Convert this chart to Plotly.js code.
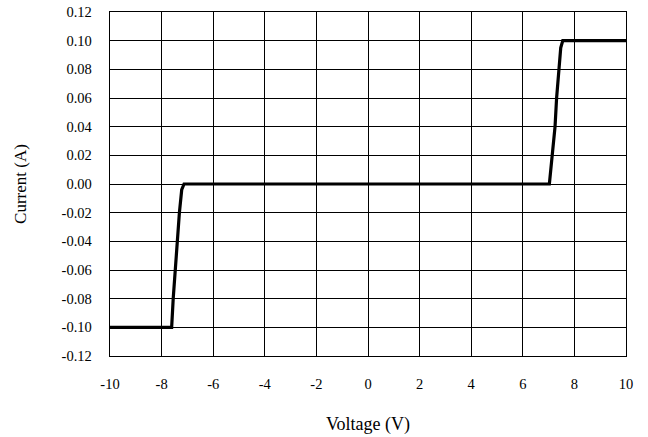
<!DOCTYPE html>
<html>
<head>
<meta charset="utf-8">
<script src="https://cdn.plot.ly/plotly-3.0.1.min.js"></script>
<style>html,body{margin:0;padding:0;background:#fff;}#chart{width:648px;height:437px;}</style>
</head>
<body>
<div id="chart"></div>
<script>
var voltage = [-10, -7.61, -7.55, -7.48, -7.39, -7.31, -7.22, -7.13, 7.03, 7.14, 7.25, 7.31, 7.40, 7.47, 7.55, 10];
var current = [-0.1, -0.1, -0.08, -0.06, -0.04, -0.02, -0.004, 0, 0, 0.02, 0.04, 0.06, 0.08, 0.095, 0.1, 0.1];
var xTickVals = [-10, -8, -6, -4, -2, 0, 2, 4, 6, 8, 10];
var xTickText = ["-10", "-8", "-6", "-4", "-2", "0", "2", "4", "6", "8", "10"];
var yTickVals = [0.12, 0.10, 0.08, 0.06, 0.04, 0.02, 0, -0.02, -0.04, -0.06, -0.08, -0.10, -0.12];
var yTickText = ["0.12", "0.10", "0.08", "0.06", "0.04", "0.02", "0.00", "-0.02", "-0.04", "-0.06", "-0.08", "-0.10", "-0.12"];

var font = {family: "Liberation Serif, Times New Roman, serif", size: 14.5, color: "#000"};

Plotly.newPlot("chart", [{
  x: voltage, y: current, type: "scatter", mode: "lines",
  line: {color: "#000", width: 3.2, shape: "linear"},
  hoverinfo: "none"
}], {
  width: 648, height: 437,
  margin: {l: 110, r: 22, t: 12, b: 81},
  paper_bgcolor: "#fff", plot_bgcolor: "#fff",
  showlegend: false,
  font: font,
  xaxis: {
    range: [-10, 10], tickvals: xTickVals, ticktext: xTickText,
    showgrid: true, gridcolor: "#000", gridwidth: 1,
    zeroline: false, showline: true, linecolor: "#000", linewidth: 1.3, mirror: true,
    ticks: "outside", ticklen: 14, tickcolor: "rgba(0,0,0,0)",
    tickfont: font,
    title: {text: "Voltage (V)", font: {family: font.family, size: 18, color: "#000"}, standoff: 26}
  },
  yaxis: {
    range: [-0.12, 0.12], tickvals: yTickVals, ticktext: yTickText,
    showgrid: true, gridcolor: "#000", gridwidth: 1,
    zeroline: false, showline: true, linecolor: "#000", linewidth: 1.3, mirror: true,
    ticks: "outside", ticklen: 14, tickcolor: "rgba(0,0,0,0)",
    tickfont: font,
    title: {text: "Current (A)", font: {family: font.family, size: 17, color: "#000"}, standoff: 30}
  }
}, {displayModeBar: false, staticPlot: true});
</script>
</body>
</html>
